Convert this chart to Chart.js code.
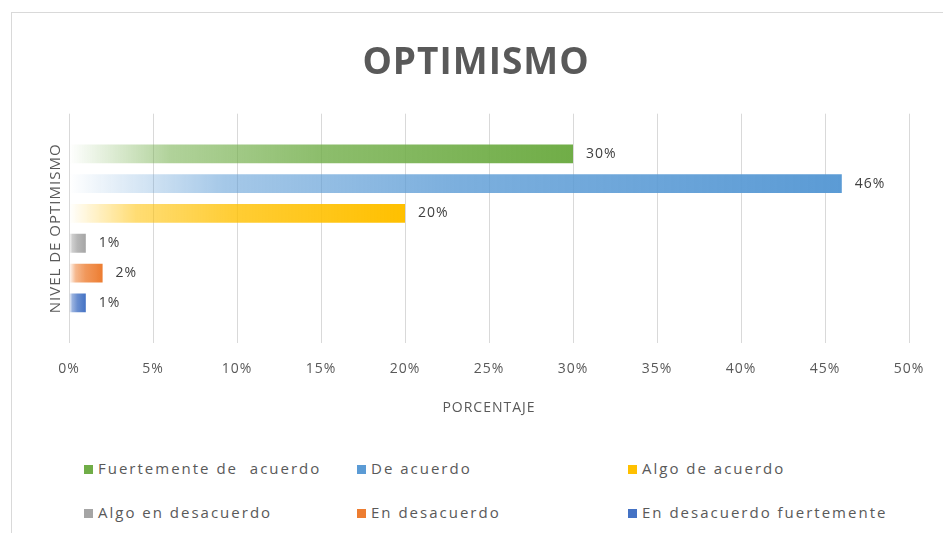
<!DOCTYPE html>
<html>
<head>
<meta charset="utf-8">
<script src="https://cdn.jsdelivr.net/npm/chart.js@4.4.1/dist/chart.umd.min.js"></script>
<style>
  body { margin: 0; background: #fff; width: 943px; height: 533px; overflow: hidden; position: relative; font-family: "Open Sans", sans-serif; }
  #marco { position: absolute; left: 11px; top: 12px; width: 960px; height: 560px; border: 1px solid #d9d9d9; }
  #grafico { position: absolute; left: 0; top: 0; }
  .ley { position: absolute; font-size: 15px; color: #595959; letter-spacing: 2px; white-space: pre; line-height: 20px; }
  .ley span { display: inline-block; width: 9px; height: 9px; margin-right: 5px; vertical-align: 0px; }
</style>
</head>
<body>
<div id="marco"></div>
<canvas id="grafico" width="943" height="430"></canvas>
<div id="leyenda"></div>
<script>
const categorias = [''];
const series = ['Fuertemente de  acuerdo', 'De acuerdo', 'Algo de acuerdo', 'Algo en desacuerdo', 'En desacuerdo', 'En desacuerdo fuertemente'];
const valores = [30, 46, 20, 1, 2, 1];
const colores = ['112,173,71', '91,155,213', '255,192,0', '165,165,165', '237,125,49', '68,114,196'];
const ticksX = [0, 5, 10, 15, 20, 25, 30, 35, 40, 45, 50];

document.addEventListener('DOMContentLoaded', function() {
    iniciarGrafico();
    armarLeyenda();
});

function degradado(context, rgb) {
    const chart = context.chart;
    if (!chart.chartArea || !chart.scales.x) return 'rgb(' + rgb + ')';
    const x0 = chart.scales.x.getPixelForValue(0);
    const x1 = chart.scales.x.getPixelForValue(context.raw || 0);
    if (x1 - x0 < 1) return 'rgb(' + rgb + ')';
    const g = chart.ctx.createLinearGradient(x0, 0, x1, 0);
    g.addColorStop(0, 'rgba(' + rgb + ',0)');
    g.addColorStop(0.2, 'rgba(' + rgb + ',0.55)');
    g.addColorStop(0.5, 'rgba(' + rgb + ',0.8)');
    g.addColorStop(1, 'rgba(' + rgb + ',1)');
    return g;
}

// texto un poco mas espaciado, como en el original
const espaciado = {
    id: 'espaciado',
    beforeInit(chart) { chart.ctx.letterSpacing = '1px'; },
    beforeDraw(chart) { chart.ctx.letterSpacing = '1px'; }
};

// etiquetas de porcentaje al final de cada barra
const etiquetas = {
    id: 'etiquetas',
    afterDatasetsDraw(chart) {
        const ctx = chart.ctx;
        ctx.save();
        ctx.font = '14px "Open Sans"';
        ctx.fillStyle = '#404040';
        ctx.textBaseline = 'middle';
        chart.data.datasets.forEach((ds, i) => {
            const bar = chart.getDatasetMeta(i).data[0];
            ctx.fillText(ds.data[0] + '%', bar.x + 13, bar.y);
        });
        ctx.restore();
    }
};

function iniciarGrafico() {
    const ctx = document.getElementById('grafico').getContext('2d');
    new Chart(ctx, {
        type: 'bar',
        data: {
            labels: categorias,
            datasets: series.map((nombre, i) => ({
                label: nombre,
                data: [valores[i]],
                backgroundColor: (c) => degradado(c, colores[i]),
                borderWidth: 0,
                categoryPercentage: 0.78,
                barPercentage: 0.63
            }))
        },
        options: {
            indexAxis: 'y',
            responsive: false,
            animation: false,
            layout: { padding: { left: 43, right: 34, top: 20, bottom: 10 } },
            plugins: {
                legend: { display: false },
                tooltip: { enabled: false },
                title: {
                    display: true,
                    text: 'OPTIMISMO',
                    color: '#595959',
                    font: { family: 'Open Sans', size: 37, weight: 'bold', lineHeight: 1.1 },
                    padding: { top: 23, bottom: 30 }
                }
            },
            scales: {
                x: {
                    min: 0,
                    max: 50,
                    afterBuildTicks: (s) => { s.ticks = ticksX.map(v => ({ value: v })); },
                    afterFit: (s) => { s.height = 77; },
                    grid: { color: '#d9d9d9', drawTicks: false },
                    border: { display: false },
                    ticks: {
                        padding: 18,
                        color: '#595959',
                        font: { family: 'Open Sans', size: 14 },
                        callback: (v) => v + '%'
                    },
                    title: {
                        display: true,
                        text: 'PORCENTAJE',
                        color: '#595959',
                        font: { family: 'Open Sans', size: 14 },
                        padding: { top: 4, bottom: 4 }
                    }
                },
                y: {
                    afterFit: (s) => { s.width = 26; },
                    grid: { display: false },
                    border: { display: false },
                    ticks: { display: false },
                    title: {
                        display: true,
                        text: 'NIVEL DE OPTIMISMO',
                        color: '#595959',
                        font: { family: 'Open Sans', size: 15 },
                        padding: { top: 4, bottom: 4 }
                    }
                }
            }
        },
        plugins: [espaciado, etiquetas]
    });
}

function armarLeyenda() {
    const cont = document.getElementById('leyenda');
    const colX = [84, 357, 628];
    const filaY = [458, 502];
    series.forEach((nombre, i) => {
        const d = document.createElement('div');
        d.className = 'ley';
        d.style.left = colX[i % 3] + 'px';
        d.style.top = filaY[Math.floor(i / 3)] + 'px';
        d.innerHTML = '<span style="background:rgb(' + colores[i] + ')"></span>' + nombre;
        cont.appendChild(d);
    });
}
</script>
</body>
</html>
